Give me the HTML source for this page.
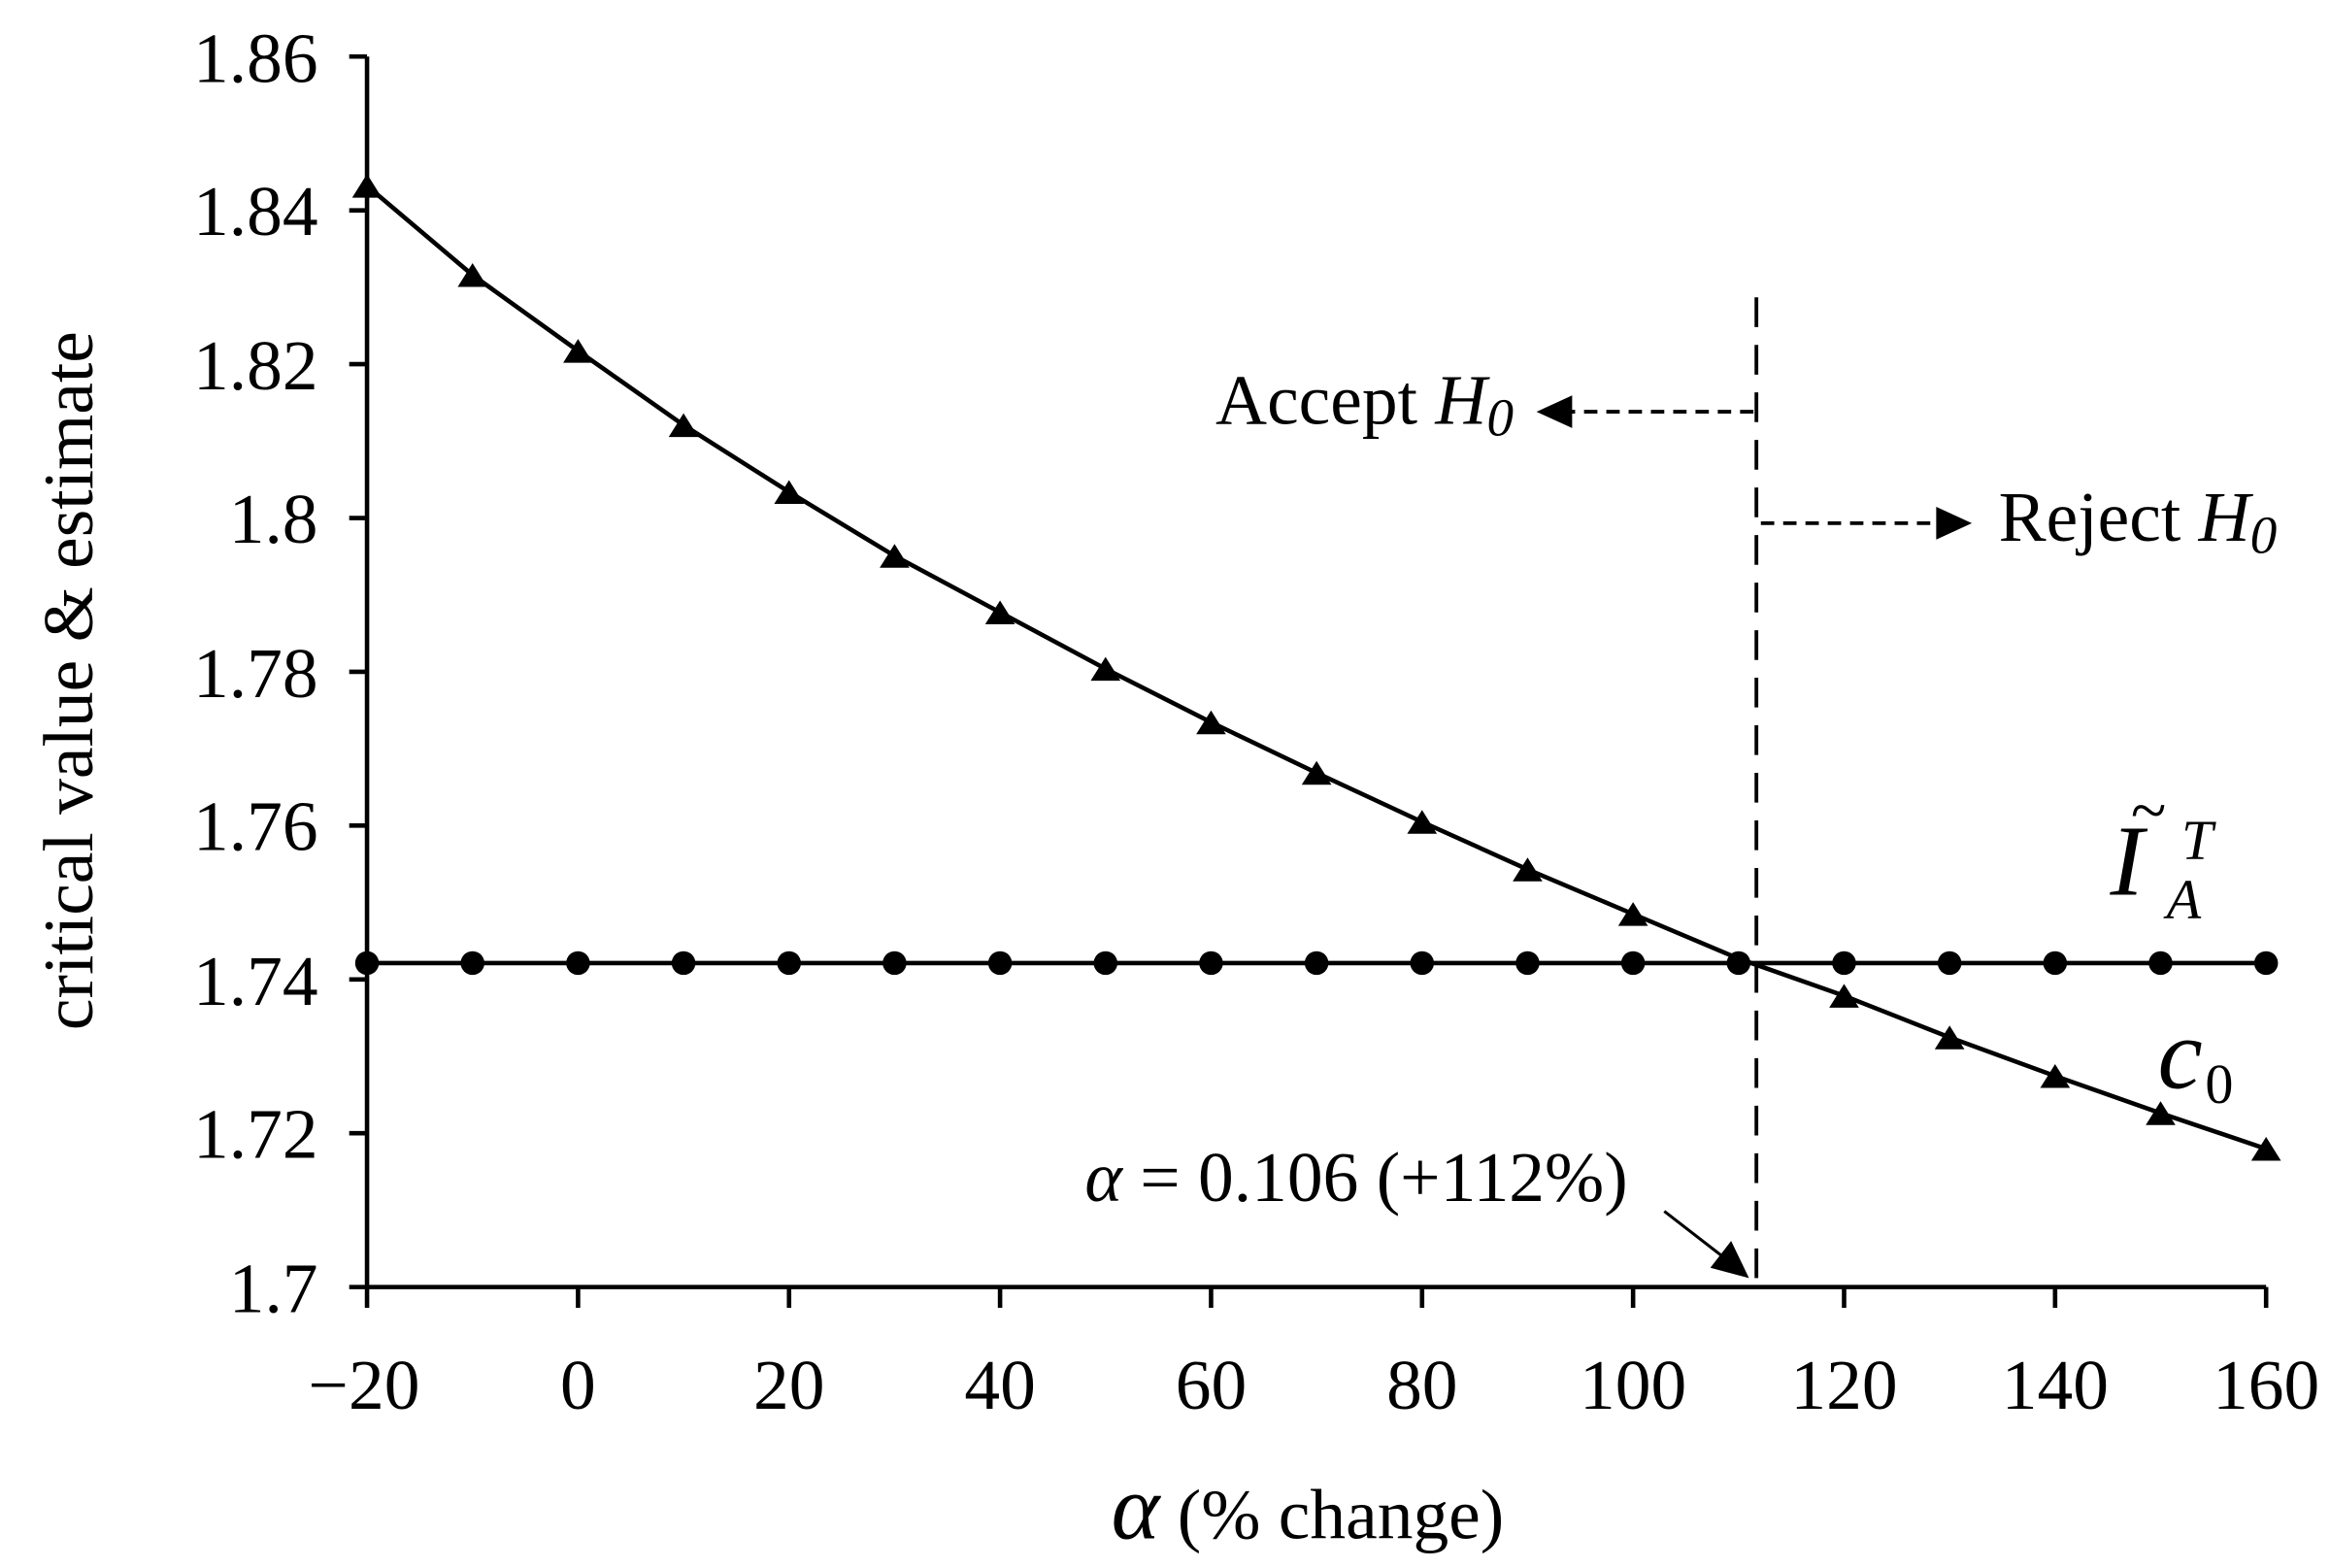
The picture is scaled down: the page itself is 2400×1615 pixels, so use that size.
<!DOCTYPE html>
<html><head><meta charset="utf-8"><style>
html,body{margin:0;padding:0;background:#fff;}
svg{display:block;}
text{font-family:"Liberation Serif",serif;fill:#000;}
</style></head><body>
<svg width="2400" height="1615" viewBox="0 0 1568 1055" xmlns="http://www.w3.org/2000/svg">
<g stroke="#000" stroke-width="3" fill="none">
<line x1="247" y1="38" x2="247" y2="866"/>
<line x1="247" y1="866" x2="1525" y2="866"/>
<g>
<line x1="235" y1="38" x2="247" y2="38"/><line x1="235" y1="141.5" x2="247" y2="141.5"/><line x1="235" y1="245" x2="247" y2="245"/><line x1="235" y1="348.5" x2="247" y2="348.5"/><line x1="235" y1="452" x2="247" y2="452"/><line x1="235" y1="555.5" x2="247" y2="555.5"/><line x1="235" y1="659" x2="247" y2="659"/><line x1="235" y1="762.5" x2="247" y2="762.5"/><line x1="235" y1="866" x2="247" y2="866"/>
</g>
<g>
<line x1="247" y1="866" x2="247" y2="880"/><line x1="389" y1="866" x2="389" y2="880"/><line x1="531" y1="866" x2="531" y2="880"/><line x1="673" y1="866" x2="673" y2="880"/><line x1="815" y1="866" x2="815" y2="880"/><line x1="957" y1="866" x2="957" y2="880"/><line x1="1099" y1="866" x2="1099" y2="880"/><line x1="1241" y1="866" x2="1241" y2="880"/><line x1="1383" y1="866" x2="1383" y2="880"/><line x1="1525" y1="866" x2="1525" y2="880"/>
</g>
<line x1="247" y1="648" x2="1525" y2="648"/>
<polyline points="247,125 318,185 389,236 460,286 531,331 602,374 673,412 744,450 815,486 886,520 957,553 1028,585 1099,615 1170,645 1241,670 1312,698 1383,724 1454,749 1525,773"/>
<line x1="1182" y1="200" x2="1182" y2="866" stroke-width="2.5" stroke-dasharray="20,12"/>
<line x1="1180" y1="277" x2="1055" y2="277" stroke-width="2.5" stroke-dasharray="9,6"/>
<line x1="1185" y1="352" x2="1305" y2="352" stroke-width="2.5" stroke-dasharray="9,6"/>
<line x1="1120" y1="815" x2="1160" y2="846" stroke-width="2"/>
</g>
<g fill="#000">
<path d="M1034,277L1058,266L1058,288z"/>
<path d="M1327,352L1303,341L1303,363z"/>
<path d="M1177,860L1151,853L1165,835z"/>
</g>
<g fill="#000">
<circle cx="247" cy="648" r="8"/><circle cx="318" cy="648" r="8"/><circle cx="389" cy="648" r="8"/><circle cx="460" cy="648" r="8"/><circle cx="531" cy="648" r="8"/><circle cx="602" cy="648" r="8"/><circle cx="673" cy="648" r="8"/><circle cx="744" cy="648" r="8"/><circle cx="815" cy="648" r="8"/><circle cx="886" cy="648" r="8"/><circle cx="957" cy="648" r="8"/><circle cx="1028" cy="648" r="8"/><circle cx="1099" cy="648" r="8"/><circle cx="1170" cy="648" r="8"/><circle cx="1241" cy="648" r="8"/><circle cx="1312" cy="648" r="8"/><circle cx="1383" cy="648" r="8"/><circle cx="1454" cy="648" r="8"/><circle cx="1525" cy="648" r="8"/>
</g>
<g fill="#000">
<path d="M247,117l10,16h-20z"/><path d="M318,177l10,16h-20z"/><path d="M389,228l10,16h-20z"/><path d="M460,278l10,16h-20z"/><path d="M531,323l10,16h-20z"/><path d="M602,366l10,16h-20z"/><path d="M673,404l10,16h-20z"/><path d="M744,442l10,16h-20z"/><path d="M815,478l10,16h-20z"/><path d="M886,512l10,16h-20z"/><path d="M957,545l10,16h-20z"/><path d="M1028,577l10,16h-20z"/><path d="M1099,607l10,16h-20z"/><path d="M1241,662l10,16h-20z"/><path d="M1312,690l10,16h-20z"/><path d="M1383,716l10,16h-20z"/><path d="M1454,741l10,16h-20z"/><path d="M1525,765l10,16h-20z"/>
</g>
<g font-size="48" text-anchor="end">
<text x="214" y="55">1.86</text><text x="214" y="158">1.84</text><text x="214" y="262">1.82</text><text x="214" y="365">1.8</text><text x="214" y="469">1.78</text><text x="214" y="572">1.76</text><text x="214" y="676">1.74</text><text x="214" y="779">1.72</text><text x="214" y="883">1.7</text>
</g>
<g font-size="48" text-anchor="middle">
<text x="245" y="948">−20</text><text x="389" y="948">0</text><text x="531" y="948">20</text><text x="673" y="948">40</text><text x="815" y="948">60</text><text x="957" y="948">80</text><text x="1099" y="948">100</text><text x="1241" y="948">120</text><text x="1383" y="948">140</text><text x="1525" y="948">160</text>
</g>
<text x="62" y="458" font-size="48" text-anchor="middle" transform="rotate(-90 62 458)">critical value &amp; estimate</text>
<text x="880" y="1035" font-size="48" text-anchor="middle"><tspan font-style="italic" font-size="62">α</tspan> (% change)</text>
<text x="818" y="285" font-size="48">Accept <tspan font-style="italic">H</tspan><tspan font-style="italic" font-size="36" dy="8">0</tspan></text>
<text x="1345" y="364" font-size="48">Reject <tspan font-style="italic">H</tspan><tspan font-style="italic" font-size="36" dy="8">0</tspan></text>
<text x="730" y="808" font-size="48"><tspan font-style="italic">α</tspan> = 0.106 (+112%)</text>
<text x="1420" y="602" font-size="68" font-style="italic">I</text>
<text x="1434" y="560" font-size="44">~</text>
<text x="1468" y="578" font-size="38" font-style="italic">T</text>
<text x="1458" y="618" font-size="38" font-style="italic">A</text>
<text x="1452" y="732" font-size="68" font-style="italic">c</text>
<text x="1484" y="742" font-size="38">0</text>
</svg>
</body></html>
